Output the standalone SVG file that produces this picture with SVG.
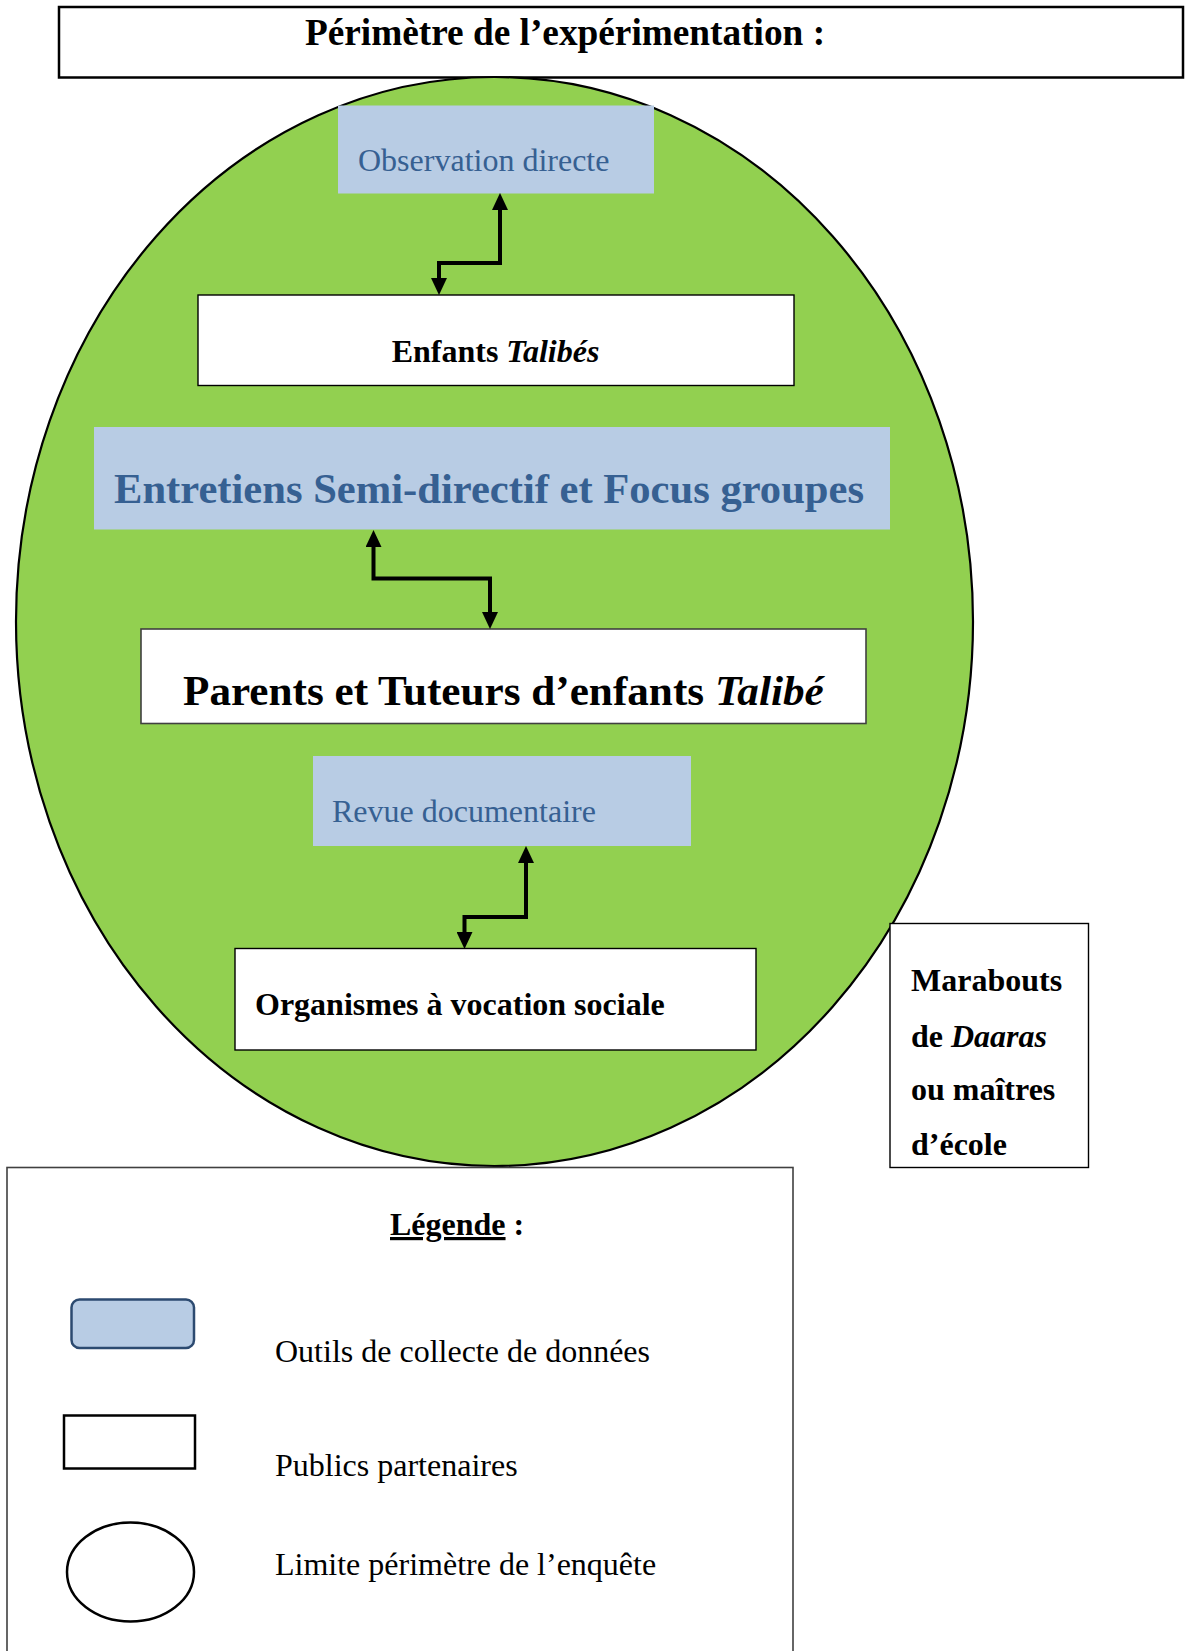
<svg xmlns="http://www.w3.org/2000/svg" width="1186" height="1651" viewBox="0 0 1186 1651">
  <style>
    text { font-family: "Liberation Serif", "Times New Roman", serif; }
    .tool { fill: #b8cce4; }
    .tool-label { fill: #366092; font-size: 32px; }
    .public { fill: #ffffff; stroke: #000000; stroke-width: 1.4; }
    .public-label { fill: #000000; font-size: 32px; font-weight: bold; }
    .link { fill: none; stroke: #000000; stroke-width: 4; }
    .legend-text { font-size: 32px; fill: #000000; }
  </style>
  <defs>
    <marker id="head" markerUnits="userSpaceOnUse" markerWidth="17" markerHeight="16" viewBox="0 0 17 16" refX="4" refY="8" orient="auto-start-reverse">
      <path d="M0,0 L17,8 L0,16 z" fill="#000000"/>
    </marker>
  </defs>

  <rect width="1186" height="1651" fill="#ffffff"/>

  <!-- Title banner -->
  <g id="title">
    <rect x="59" y="7" width="1124" height="70.5" fill="#ffffff" stroke="#000000" stroke-width="2.5"/>
    <text x="565" y="45" text-anchor="middle" font-size="37.3" font-weight="bold">Périmètre de l’expérimentation :</text>
  </g>

  <!-- Survey perimeter -->
  <g id="perimeter">
    <ellipse cx="494.5" cy="621.5" rx="478.5" ry="544.5" fill="#92d050" stroke="#000000" stroke-width="2.2"/>
  </g>

  <!-- Data collection tools -->
  <g id="observation">
    <rect class="tool" x="338" y="105.5" width="316" height="88"/>
    <text class="tool-label" x="358" y="171">Observation directe</text>
  </g>
  <g id="entretiens">
    <rect class="tool" x="94" y="427" width="796" height="102.5"/>
    <text x="114" y="503" fill="#366092" font-size="42.6" font-weight="bold">Entretiens Semi-directif et Focus groupes</text>
  </g>
  <g id="revue">
    <rect class="tool" x="313" y="756" width="378" height="90"/>
    <text class="tool-label" x="332" y="822">Revue documentaire</text>
  </g>

  <!-- Partner publics -->
  <g id="enfants">
    <rect class="public" x="198" y="295" width="596" height="90.5"/>
    <text class="public-label" x="495.5" y="362" text-anchor="middle">Enfants <tspan font-style="italic">Talibés</tspan></text>
  </g>
  <g id="parents">
    <rect x="141" y="629" width="725" height="94.5" fill="#ffffff" stroke="#404040" stroke-width="1.6"/>
    <text x="183" y="705" font-size="43.2" font-weight="bold">Parents et Tuteurs d’enfants <tspan font-style="italic">Talibé</tspan></text>
  </g>
  <g id="organismes">
    <rect class="public" x="235" y="948.5" width="521" height="101.5"/>
    <text class="public-label" x="255" y="1015">Organismes à vocation sociale</text>
  </g>
  <g id="marabouts">
    <rect class="public" x="890" y="923.5" width="198.5" height="244"/>
    <text class="public-label" x="911" y="991">Marabouts</text>
    <text class="public-label" x="911" y="1047">de <tspan font-style="italic">Daaras</tspan></text>
    <text class="public-label" x="911" y="1100">ou maîtres</text>
    <text class="public-label" x="911" y="1155">d’école</text>
  </g>

  <!-- Two-way links between tools and publics -->
  <g id="connectors">
    <path class="link" d="M500,206 V263 H439 V282" marker-start="url(#head)" marker-end="url(#head)"/>
    <path class="link" d="M373.5,543 V578.5 H490 V616" marker-start="url(#head)" marker-end="url(#head)"/>
    <path class="link" d="M526,859 V917 H464.5 V936" marker-start="url(#head)" marker-end="url(#head)"/>
  </g>

  <!-- Legend -->
  <g id="legend">
    <rect x="7" y="1167.5" width="786" height="500" fill="#ffffff" stroke="#404040" stroke-width="1.6"/>
    <text x="390" y="1235" font-size="32" font-weight="bold"><tspan text-decoration="underline">Légende</tspan> :</text>
    <rect x="71.5" y="1299.5" width="122.5" height="48.5" rx="8" ry="8" fill="#b8cce4" stroke="#2c4a70" stroke-width="2.5"/>
    <text class="legend-text" x="275" y="1362">Outils de collecte de données</text>
    <rect x="64" y="1415.5" width="131" height="53" fill="#ffffff" stroke="#000000" stroke-width="2.5"/>
    <text class="legend-text" x="275" y="1476">Publics partenaires</text>
    <ellipse cx="130.5" cy="1572" rx="63.5" ry="49.5" fill="#ffffff" stroke="#000000" stroke-width="2.5"/>
    <text class="legend-text" x="275" y="1575">Limite périmètre de l’enquête</text>
  </g>
</svg>
